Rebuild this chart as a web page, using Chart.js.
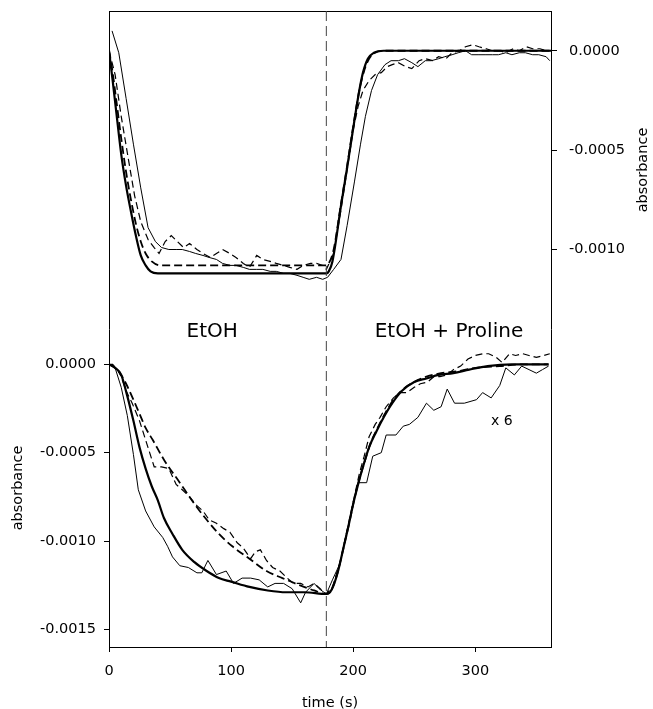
<!DOCTYPE html>
<html>
<head>
<meta charset="utf-8">
<script src="https://cdn.jsdelivr.net/npm/chart.js@4/dist/chart.umd.min.js"></script>
<style>
html,body{margin:0;padding:0;background:#fff;}
#wrap{position:relative;width:653px;height:709px;}
</style>
</head>
<body>
<div id="wrap"><canvas id="c" width="653" height="709"></canvas></div>
<script>
// ---- DATA (time in s, absorbance) ----
// Top panel (right axis)
const topFitSolid = [[0,0],[3,-0.00015],[6,-0.00031],[10,-0.00052],[14,-0.00068],[18,-0.00081],[22,-0.00093],[26,-0.00103],[30,-0.00108],[34,-0.00111],[40,-0.00112],[60,-0.00112],[120,-0.00112],[178,-0.00112],[180,-0.00111],[183,-0.00106],[190,-0.00078],[195,-0.00059],[200,-0.00039],[205,-0.00020],[208,-0.00011],[212,-0.00004],[217,-0.00001],[225,0],[260,0],[362,0]];
const topFitDashed = [[0,0],[3,-0.00011],[6,-0.00025],[10,-0.00044],[14,-0.00061],[18,-0.00075],[22,-0.00087],[26,-0.00096],[30,-0.00102],[35,-0.00106],[42,-0.00108],[60,-0.00108],[120,-0.00108],[178,-0.00108],[180,-0.00107],[184,-0.00100],[190,-0.00077],[195,-0.00058],[200,-0.00038],[205,-0.00020],[209,-0.00010],[213,-0.00004],[218,-0.00001],[226,0],[260,0],[362,0]];
const topDataSolid = [[2.5,0.0001],[8,-0.00001],[14,-0.00024],[20,-0.00047],[26,-0.00069],[32,-0.00089],[38,-0.00096],[43,-0.00099],[49,-0.00100],[55,-0.00100],[60,-0.00100],[66,-0.00101],[71,-0.00102],[77,-0.00103],[82,-0.00104],[88,-0.00105],[93,-0.00107],[99,-0.00108],[104,-0.00108],[110,-0.00109],[115,-0.00110],[121,-0.00110],[126,-0.00110],[132,-0.00111],[137,-0.00111],[143,-0.00112],[148,-0.00112],[154,-0.00113],[159,-0.00114],[164,-0.00115],[170,-0.00114],[175,-0.00115],[179,-0.00114],[184,-0.00110],[190,-0.00105],[195,-0.00088],[201,-0.00066],[206,-0.00047],[210,-0.00033],[215,-0.00020],[220,-0.00012],[226,-0.00007],[231,-0.00005],[237,-0.00005],[242,-0.00004],[248,-0.00006],[253,-0.00008],[259,-0.00005],[264,-0.00005],[270,-0.00004],[275,-0.00003],[281,-0.00002],[286,-0.00001],[292,0],[297,-0.00002],[303,-0.00002],[308,-0.00002],[314,-0.00002],[319,-0.00002],[325,-0.00001],[330,-0.00002],[336,-0.00001],[341,-0.00001],[347,-0.00002],[352,-0.00002],[358,-0.00003],[361,-0.00005]];
const topDataDashed = [[0,0],[5,-0.00012],[10,-0.00033],[16,-0.00055],[21,-0.00073],[26,-0.00086],[32,-0.00095],[37,-0.00099],[41,-0.00102],[46,-0.00096],[51,-0.00093],[56,-0.00096],[61,-0.00099],[66,-0.00097],[72,-0.00100],[77,-0.00102],[83,-0.00104],[88,-0.00102],[93,-0.00100],[99,-0.00102],[104,-0.00104],[110,-0.00107],[115,-0.00109],[121,-0.00103],[126,-0.00105],[132,-0.00106],[137,-0.00107],[143,-0.00108],[148,-0.00109],[154,-0.00110],[159,-0.00108],[165,-0.00107],[170,-0.00107],[175,-0.00108],[178,-0.00110],[184,-0.00102],[190,-0.00080],[195,-0.00060],[200,-0.00040],[204,-0.00028],[208,-0.00020],[213,-0.00015],[218,-0.00012],[223,-0.00011],[228,-0.00008],[232,-0.00007],[237,-0.00006],[243,-0.00008],[248,-0.00009],[254,-0.00005],[259,-0.00004],[265,-0.00005],[270,-0.00003],[276,-0.00004],[281,-0.00001],[287,0],[292,0.00002],[298,0.00003],[303,0.00002],[309,0.00001],[314,0],[320,0],[325,-0.00001],[331,0.00001],[336,0],[342,0.00002],[347,0.00001],[353,0.00001],[358,0]];
// Bottom panel (left axis)
const botFitSolid = [[0,0],[5,-0.00002],[10,-0.00006],[15,-0.00018],[20,-0.00032],[25,-0.00047],[30,-0.00059],[35,-0.00069],[40,-0.00077],[45,-0.00087],[52,-0.00096],[60,-0.00105],[70,-0.00112],[80,-0.00117],[90,-0.00121],[100,-0.00123],[115,-0.00126],[130,-0.00128],[145,-0.00129],[160,-0.00129],[178,-0.0013],[181,-0.00129],[184,-0.00125],[188,-0.00116],[192,-0.00104],[196,-0.00092],[200,-0.00079],[204,-0.00068],[208,-0.00058],[213,-0.00047],[219,-0.00038],[225,-0.0003],[232,-0.00022],[240,-0.00015],[250,-0.0001],[260,-0.00008],[270,-0.00006],[282,-0.00005],[295,-0.00003],[310,-0.00001],[330,0],[360,0]];
const botFitDashed = [[0,0],[5,-0.00002],[10,-0.00006],[14,-0.00011],[20,-0.0002],[25,-0.00028],[30,-0.00036],[36,-0.00043],[45,-0.00054],[58,-0.00067],[70,-0.00079],[80,-0.00088],[90,-0.00096],[101,-0.00103],[115,-0.0011],[129,-0.00117],[142,-0.00121],[156,-0.00125],[168,-0.00128],[178,-0.0013],[181,-0.00129],[185,-0.00123],[189,-0.00113],[193,-0.00101],[197,-0.00089],[201,-0.00076],[205,-0.00065],[209,-0.00056],[214,-0.00045],[220,-0.00036],[226,-0.00028],[233,-0.0002],[241,-0.00014],[250,-0.0001],[260,-0.00007],[272,-0.00005],[285,-0.00004],[300,-0.00002],[320,-0.00001],[340,0],[360,0]];
const botDataSolid = [[0,0],[5,-0.00002],[10,-0.00013],[15,-0.00029],[20,-0.00051],[24,-0.00071],[30,-0.00083],[37,-0.00092],[44,-0.00098],[48,-0.00103],[52,-0.00109],[58,-0.00114],[65,-0.00115],[72,-0.00118],[76,-0.00118],[81,-0.00111],[88,-0.00119],[96,-0.00117],[102,-0.00124],[109,-0.00121],[116,-0.00121],[123,-0.00122],[130,-0.00126],[136,-0.00124],[143,-0.00124],[150,-0.00127],[157,-0.00135],[161,-0.00129],[168,-0.00124],[172,-0.00127],[178,-0.0013],[183,-0.00122],[189,-0.00113],[194,-0.00098],[199,-0.00082],[204,-0.00067],[211,-0.00067],[216,-0.00052],[223,-0.0005],[227,-0.0004],[235,-0.0004],[241,-0.00035],[246,-0.00034],[253,-0.0003],[260,-0.00022],[266,-0.00026],[272,-0.00024],[277,-0.00014],[283,-0.00022],[291,-0.00022],[301,-0.0002],[306,-0.00016],[313,-0.00019],[320,-0.00012],[325,-0.00002],[332,-0.00006],[338,-0.00001],[344,-0.00003],[350,-0.00005],[355,-0.00003],[360,-0.00001]];
const botDataDashed = [[0,0],[3,0],[7,-0.00003],[10,-0.00007],[14,-0.00015],[19,-0.00022],[25,-0.00032],[31,-0.00045],[37,-0.00058],[43,-0.00058],[49,-0.00059],[55,-0.00068],[60,-0.00071],[66,-0.00075],[72,-0.0008],[77,-0.00083],[82,-0.00088],[88,-0.0009],[94,-0.00093],[99,-0.00095],[105,-0.00101],[110,-0.00104],[116,-0.0011],[120,-0.00106],[124,-0.00105],[129,-0.00111],[134,-0.00115],[140,-0.00117],[146,-0.00121],[151,-0.00124],[157,-0.00124],[163,-0.00126],[168,-0.00124],[173,-0.00127],[178,-0.0013],[183,-0.00126],[189,-0.00113],[194,-0.00097],[199,-0.00081],[205,-0.00062],[209,-0.00052],[213,-0.00041],[218,-0.00034],[222,-0.0003],[227,-0.00024],[233,-0.00019],[238,-0.00016],[244,-0.00016],[250,-0.00013],[255,-0.00011],[261,-0.0001],[266,-0.00007],[271,-0.00007],[277,-0.00006],[282,-0.00003],[288,-0.00001],[294,0.00003],[300,0.00005],[306,0.00006],[311,0.00006],[317,0.00004],[322,0.00001],[328,0.00006],[333,0.00005],[339,0.00006],[344,0.00005],[350,0.00004],[356,0.00005],[361,0.00006]];
// Marker line (solution change)
const switchTime = 178;
// Tick labels
const xTicks = [0, 100, 200, 300];
const leftTicks = [0, -0.0005, -0.0010, -0.0015];
const rightTicks = [0, -0.0005, -0.0010];

const toPts = a => a.map(p => ({x: p[0], y: p[1]}));
const FONT = "'DejaVu Sans', 'Liberation Sans', Arial, sans-serif";
const INK = '#000';

function ds(arr, axis, width, dash, smooth) {
  return {
    data: toPts(arr), yAxisID: axis, borderColor: INK, borderWidth: width,
    borderDash: dash || [], pointRadius: 0, fill: false,
    tension: smooth ? 0.4 : 0, cubicInterpolationMode: smooth ? 'monotone' : 'default'
  };
}

// fix axis box sizes and remove automatic label padding
const fixW = w => s => { s.width = w; s.paddingTop = 0; s.paddingBottom = 0; };
const fixH = h => s => { s.height = h; s.paddingLeft = 0; s.paddingRight = 0; };
const setTicks = vals => s => { s.ticks = vals.map(v => ({value: v})); };

const textPlugin = {
  id: 'texts',
  afterDraw(chart) {
    const {ctx, scales} = chart;
    const x = scales.x, yL = scales.yL, yR = scales.yR;
    ctx.save();
    ctx.fillStyle = INK;
    ctx.textAlign = 'center';
    ctx.textBaseline = 'middle';
    ctx.font = '20px ' + FONT;
    ctx.fillText('EtOH', x.getPixelForValue(84.5), yL.getPixelForValue(0.000186));
    ctx.fillText('EtOH + Proline', x.getPixelForValue(278.4), yL.getPixelForValue(0.000186));
    ctx.font = '14px ' + FONT;
    ctx.fillText('x 6', x.getPixelForValue(321.8), yL.getPixelForValue(-0.000324));
    ctx.font = '14.5px ' + FONT;
    const lc = (yL.getPixelForValue(0.0002) + yL.getPixelForValue(-0.0016)) / 2;
    ctx.save(); ctx.translate(18.5, lc); ctx.rotate(-Math.PI / 2);
    ctx.fillText('absorbance', 0, 0); ctx.restore();
    const rc = (yR.getPixelForValue(0.0002) + yR.getPixelForValue(-0.0014)) / 2;
    ctx.save(); ctx.translate(643, rc); ctx.rotate(-Math.PI / 2);
    ctx.fillText('absorbance', 0, 0); ctx.restore();
    ctx.restore();
  }
};

new Chart(document.getElementById('c'), {
  type: 'line',
  data: {
    datasets: [
      Object.assign(ds([[switchTime, 0.002], [switchTime, -0.0016]], 'yL', 1, [10, 5], false), {borderColor: '#444'}),
      ds(topFitSolid, 'yR', 2.2, null, true),
      ds(topFitDashed, 'yR', 1.8, [8, 4], true),
      ds(topDataSolid, 'yR', 1, null, false),
      ds(topDataDashed, 'yR', 1.2, [7, 4], false),
      ds(botFitSolid, 'yL', 2.2, null, true),
      ds(botFitDashed, 'yL', 1.8, [8, 4], true),
      ds(botDataSolid, 'yL', 1, null, false),
      ds(botDataDashed, 'yL', 1.2, [7, 4], false)
    ]
  },
  options: {
    responsive: false,
    animation: false,
    events: [],
    layout: {padding: 0, autoPadding: false},
    plugins: {legend: {display: false}, tooltip: {enabled: false}},
    scales: {
      x: {
        type: 'linear', position: 'bottom', min: 0, max: 362,
        afterFit: fixH(62), afterBuildTicks: setTicks(xTicks),
        border: {display: true, color: INK, width: 1},
        grid: {drawOnChartArea: false, drawTicks: true, tickLength: 5, color: INK},
        ticks: {color: INK, font: {family: FONT, size: 14.5}, padding: 11, maxRotation: 0, callback: v => String(v)},
        title: {display: true, text: 'time (s)', color: INK, font: {family: FONT, size: 14.5}, padding: {top: 0, bottom: -3}}
      },
      xTop: {
        type: 'linear', position: 'top', min: 0, max: 362,
        afterFit: fixH(11),
        border: {display: true, color: INK, width: 1},
        grid: {display: false, drawOnChartArea: false, drawTicks: false},
        ticks: {display: false}
      },
      yL: {
        type: 'linear', position: 'left', min: -0.0016, max: 0.002,
        afterFit: fixW(109), afterBuildTicks: setTicks(leftTicks),
        border: {display: true, color: INK, width: 1},
        grid: {drawOnChartArea: false, drawTicks: true, tickLength: 5, color: INK},
        ticks: {color: INK, font: {family: FONT, size: 14.5}, padding: 8, callback: v => v.toFixed(4)}
      },
      yR: {
        type: 'linear', position: 'right', min: -0.003, max: 0.0002,
        afterFit: fixW(102), afterBuildTicks: setTicks(rightTicks),
        border: {display: true, color: INK, width: 1},
        grid: {drawOnChartArea: false, drawTicks: true, tickLength: 6, color: INK},
        ticks: {color: INK, font: {family: FONT, size: 14.5}, padding: 12, callback: v => v.toFixed(4)}
      }
    }
  },
  plugins: [textPlugin]
});
</script>
</body>
</html>
